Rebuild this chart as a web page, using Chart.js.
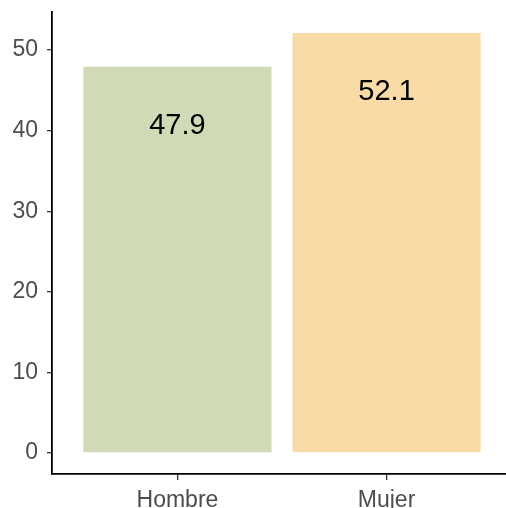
<!DOCTYPE html>
<html>
<head>
<meta charset="utf-8">
<script src="https://cdn.jsdelivr.net/npm/chart.js@4"></script>
<style>
  html, body { margin: 0; padding: 0; background: #fff; overflow: hidden; }
  #wrap { position: absolute; left: 0; top: 0; width: 512px; height: 508px; }
</style>
</head>
<body>
<div id="wrap"><canvas id="chart"></canvas></div>
<script>
const categories = ['Hombre', 'Mujer'];
const values = [47.9, 52.1];
const barColors = ['#D0DAB7', '#F8DBA7'];
const yTicks = [0, 10, 20, 30, 40, 50];

const fontFamily = "Arial, 'Liberation Sans', sans-serif";

// value labels sit a bit under the top of each bar, like geom_text(y = value - 7)
const valueLabels = {
  id: 'valueLabels',
  afterDatasetsDraw(chart) {
    const { ctx } = chart;
    const yScale = chart.scales.y;
    const meta = chart.getDatasetMeta(0);
    ctx.save();
    ctx.font = '29px ' + fontFamily;
    ctx.fillStyle = '#000';
    ctx.textAlign = 'center';
    ctx.textBaseline = 'middle';
    meta.data.forEach((bar, i) => {
      ctx.fillText(values[i].toFixed(1), bar.x, yScale.getPixelForValue(values[i] - 7.3));
    });
    ctx.restore();
  },
};

new Chart(document.getElementById('chart'), {
  type: 'bar',
  data: {
    datasets: [{
      data: values.map((v, i) => ({ x: i + 1, y: v })),
      backgroundColor: barColors,
      borderWidth: 0,
      categoryPercentage: 1,
      barPercentage: 0.9,
    }],
  },
  options: {
    responsive: true,
    maintainAspectRatio: false,
    animation: false,
    layout: { padding: { top: 12, right: 0, bottom: 0, left: 0 } },
    plugins: { legend: { display: false }, tooltip: { enabled: false } },
    scales: {
      x: {
        type: 'linear',
        offset: false,
        min: 0.4,
        max: 2.6,
        afterBuildTicks: (scale) => { scale.ticks = categories.map((c, i) => ({ value: i + 1 })); },
        afterFit: (scale) => {
          scale.height = 34;
          scale.paddingLeft = 0;
          scale.paddingRight = 0;
        },
        ticks: {
          callback: (v) => categories[v - 1],
          color: '#4D4D4D',
          font: { family: fontFamily, size: 23 },
          padding: 7,
          maxRotation: 0,
        },
        grid: { offset: false, drawOnChartArea: false, drawTicks: true, tickLength: 6, color: '#333333', lineWidth: 1.3 },
        border: { display: true, color: '#000', width: 1.8 },
      },
      y: {
        min: -2.605,
        max: 54.705,
        afterBuildTicks: (scale) => { scale.ticks = yTicks.map((v) => ({ value: v })); },
        afterFit: (scale) => {
          scale.width = 52;
          scale.paddingTop = 0;
          scale.paddingBottom = 0;
        },
        ticks: {
          color: '#4D4D4D',
          font: { family: fontFamily, size: 23 },
          padding: 9,
        },
        grid: { drawOnChartArea: false, drawTicks: true, tickLength: 5, color: '#333333', lineWidth: 1.3 },
        border: { display: true, color: '#000', width: 1.8 },
      },
    },
  },
  plugins: [valueLabels],
});
</script>
</body>
</html>
